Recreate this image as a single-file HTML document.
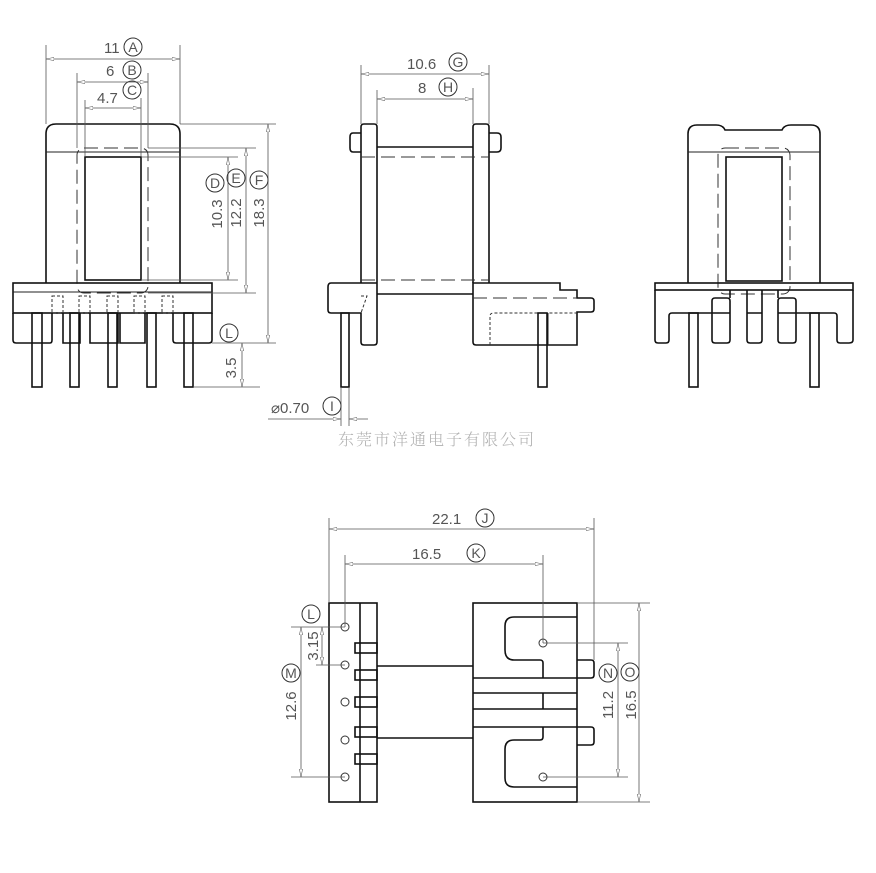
<!DOCTYPE html>
<html><head><meta charset="utf-8"><style>
html,body{margin:0;padding:0;background:#fff;}
svg{display:block;}
text{font-family:"Liberation Sans","Noto Sans CJK SC",sans-serif;fill:#555;font-weight:300;}
.o{fill:none;stroke:#111;stroke-width:1.6;}
.t{fill:none;stroke:#222;stroke-width:1;}
.d{fill:none;stroke:#555;stroke-width:0.8;}
.h{fill:none;stroke:#333;stroke-width:1;stroke-dasharray:14 6;}
.c{fill:none;stroke:#333;stroke-width:1;}
.l{font-size:14px;text-anchor:middle;}
</style></head><body>
<svg width="876" height="873" viewBox="0 0 876 873" xmlns="http://www.w3.org/2000/svg">
<defs>
<marker id="a" markerWidth="10" markerHeight="6" refX="10" refY="3" orient="auto-start-reverse"><path d="M0,1 L10,3 L0,5 Z" fill="#fff" stroke="#555" stroke-width="0.7"/></marker>
</defs>

<!-- VIEW 1 -->
<path class="o" d="M46,283 V134 Q46,124 56,124 H170 Q180,124 180,134 V283"/>
<line class="t" x1="46" y1="152" x2="180" y2="152"/>
<rect class="o" x="85" y="157" width="56" height="123"/>
<rect class="h" x="77" y="148" width="71" height="145" rx="7"/>
<rect class="o" x="13" y="283" width="199" height="30"/>
<line class="t" x1="13" y1="292" x2="212" y2="292"/>
<g class="c" stroke-dasharray="3 2"><rect x="52" y="296" width="11" height="17"/><rect x="79" y="296" width="11" height="17"/><rect x="107" y="296" width="11" height="17"/><rect x="134" y="296" width="11" height="17"/><rect x="162" y="296" width="11" height="17"/></g>
<path class="o" d="M13,313 V340 Q13,343 16,343 H50 Q52,343 52,340 V313 M63,313 V343 H80 V313 M90,313 V343 H118 V313 M120,313 V343 H145 V313 M173,313 V340 Q173,343 176,343 H209 Q212,343 212,340 V313"/>
<g class="o"><rect x="32" y="313" width="10" height="74"/><rect x="70" y="313" width="9" height="74"/><rect x="108" y="313" width="9" height="74"/><rect x="147" y="313" width="9" height="74"/><rect x="184" y="313" width="9" height="74"/></g>
<g class="d">
<line x1="46" y1="45" x2="46" y2="124"/><line x1="180" y1="45" x2="180" y2="124"/>
<line x1="46" y1="59" x2="180" y2="59" marker-start="url(#a)" marker-end="url(#a)"/>
<line x1="77" y1="73" x2="77" y2="148"/><line x1="148" y1="73" x2="148" y2="148"/>
<line x1="77" y1="82" x2="148" y2="82" marker-start="url(#a)" marker-end="url(#a)"/>
<line x1="85" y1="100" x2="85" y2="157"/><line x1="141" y1="98" x2="141" y2="157"/>
<line x1="85" y1="108" x2="141" y2="108" marker-start="url(#a)" marker-end="url(#a)"/>
<line x1="180" y1="124" x2="276" y2="124"/><line x1="212" y1="343" x2="276" y2="343"/>
<line x1="268" y1="124" x2="268" y2="343" marker-start="url(#a)" marker-end="url(#a)"/>
<line x1="148" y1="148" x2="256" y2="148"/><line x1="148" y1="293" x2="256" y2="293"/>
<line x1="246" y1="148" x2="246" y2="293" marker-start="url(#a)" marker-end="url(#a)"/>
<line x1="141" y1="157" x2="238" y2="157"/><line x1="141" y1="280" x2="238" y2="280"/>
<line x1="228" y1="157" x2="228" y2="280" marker-start="url(#a)" marker-end="url(#a)"/>
<line x1="193" y1="387" x2="260" y2="387"/>
<line x1="242" y1="343" x2="242" y2="387" marker-start="url(#a)" marker-end="url(#a)"/>
</g>
<g font-size="15">
<text x="104" y="53">11</text><circle class="c" cx="133" cy="47" r="9"/><text x="133" y="52" class="l">A</text>
<text x="106" y="76">6</text><circle class="c" cx="132" cy="70" r="9"/><text x="132" y="75" class="l">B</text>
<text x="97" y="103">4.7</text><circle class="c" cx="132" cy="90" r="9"/><text x="132" y="95" class="l">C</text>
<circle class="c" cx="215" cy="183" r="9"/><text x="215" y="188" class="l">D</text>
<circle class="c" cx="236" cy="178" r="9"/><text x="236" y="183" class="l">E</text>
<circle class="c" cx="259" cy="180" r="9"/><text x="259" y="185" class="l">F</text>
<text transform="translate(222,214) rotate(-90)" text-anchor="middle">10.3</text>
<text transform="translate(241,213) rotate(-90)" text-anchor="middle">12.2</text>
<text transform="translate(264,213) rotate(-90)" text-anchor="middle">18.3</text>
<circle class="c" cx="229" cy="333" r="9"/><text x="229" y="338" class="l">L</text>
<text transform="translate(236,368) rotate(-90)" text-anchor="middle">3.5</text>
</g>

<!-- VIEW 2 -->
<path class="o" d="M361,283 V127 Q361,124 364,124 H374 Q377,124 377,127 V283"/>
<path class="o" d="M361,133 H353 Q350,133 350,137 V148 Q350,152 353,152 H361"/>
<path class="o" d="M473,283 V127 Q473,124 476,124 H486 Q489,124 489,127 V283"/>
<path class="o" d="M489,133 H497 Q501,133 501,137 V148 Q501,152 497,152 H489"/>
<line class="o" x1="377" y1="147" x2="473" y2="147"/>
<line class="o" x1="377" y1="294" x2="473" y2="294"/>
<line class="h" x1="361" y1="157" x2="489" y2="157"/>
<line class="h" x1="361" y1="280" x2="489" y2="280"/>
<path class="o" d="M377,283 H331 Q328,283 328,287 V310 Q328,313 331,313 H361 V342 Q361,345 364,345 H374 Q377,345 377,342 V283"/>
<rect class="o" x="341" y="313" width="8" height="74"/>
<path class="o" d="M473,283 H560 V290 H577 V298 H591 Q594,298 594,301 V309 Q594,312 591,312 H577 V345 H476 Q473,345 473,342 Z"/>
<path class="c" stroke-dasharray="3 2" d="M361,296 H367 L361,313"/>
<path class="c" stroke-dasharray="3 2" d="M490,345 V316 Q490,313 494,313 H577"/>
<line class="h" x1="473" y1="298" x2="577" y2="298"/>
<line class="t" x1="548" y1="313" x2="548" y2="345"/>
<rect class="o" x="538" y="313" width="9" height="74"/>
<g class="d">
<line x1="361" y1="65" x2="361" y2="124"/><line x1="489" y1="65" x2="489" y2="124"/>
<line x1="361" y1="74" x2="489" y2="74" marker-start="url(#a)" marker-end="url(#a)"/>
<line x1="377" y1="90" x2="377" y2="124"/><line x1="473" y1="88" x2="473" y2="124"/>
<line x1="377" y1="99" x2="473" y2="99" marker-start="url(#a)" marker-end="url(#a)"/>
<line x1="268" y1="419" x2="341" y2="419" marker-end="url(#a)"/>
<line x1="368" y1="419" x2="349" y2="419" marker-end="url(#a)"/>
<line x1="341" y1="387" x2="341" y2="426"/><line x1="349" y1="387" x2="349" y2="426"/>
</g>
<g font-size="15">
<text x="407" y="69">10.6</text><circle class="c" cx="458" cy="62" r="9"/><text x="458" y="67" class="l">G</text>
<text x="418" y="93">8</text><circle class="c" cx="448" cy="87" r="9"/><text x="448" y="92" class="l">H</text>
<text x="271" y="413">⌀0.70</text><circle class="c" cx="332" cy="406" r="9"/><text x="332" y="411" class="l">I</text>
</g>
<text x="437" y="445" font-size="16" text-anchor="middle" style="fill:#b0b0b0;letter-spacing:2px;font-family:'Liberation Sans','Noto Serif CJK SC',serif">东莞市洋通电子有限公司</text>

<!-- VIEW 3 -->
<path class="o" d="M688,283 V134 Q688,125 697,125 H716 Q723,125 725,130 H782 Q784,125 791,125 H811 Q820,125 820,134 V283"/>
<line class="t" x1="688" y1="152" x2="820" y2="152"/>
<rect class="o" x="726" y="157" width="56" height="124"/>
<rect class="h" x="718" y="148" width="72" height="146" rx="7"/>
<rect class="o" x="655" y="283" width="198" height="7"/>
<path class="o" d="M655,290 V340 Q655,343 658,343 H666 Q669,343 669,340 V316 Q669,313 672,313 H712 M712,301 Q712,298 715,298 H727 Q730,298 730,301 V340 Q730,343 727,343 H715 Q712,343 712,340 V301 M712,313 H730 M730,290 V298 M747,290 V340 Q747,343 750,343 H759 Q762,343 762,340 V290 M747,313 H762 M778,301 Q778,298 781,298 H793 Q796,298 796,301 V340 Q796,343 793,343 H781 Q778,343 778,340 Z M778,313 H796 M778,290 V298 M796,313 H834 Q837,313 837,316 V340 Q837,343 840,343 H849 Q853,343 853,340 V290"/>
<rect class="o" x="689" y="313" width="9" height="74"/>
<rect class="o" x="810" y="313" width="9" height="74"/>

<!-- VIEW 4 -->
<rect class="o" x="329" y="603" width="48" height="199"/>
<line class="o" x1="360" y1="603" x2="360" y2="802"/>
<g class="c"><circle cx="345" cy="627" r="4"/><circle cx="345" cy="665" r="4"/><circle cx="345" cy="702" r="4"/><circle cx="345" cy="740" r="4"/><circle cx="345" cy="777" r="4"/></g>
<g class="o"><rect x="355" y="643" width="22" height="10"/><rect x="355" y="670" width="22" height="10"/><rect x="355" y="697" width="22" height="10"/><rect x="355" y="727" width="22" height="10"/><rect x="355" y="754" width="22" height="10"/></g>
<line class="o" x1="377" y1="666" x2="473" y2="666"/>
<line class="o" x1="377" y1="738" x2="473" y2="738"/>
<rect class="o" x="473" y="603" width="104" height="199"/>
<path class="o" d="M577,617 H514 Q505,617 505,626 V650 Q505,660 514,660 H540 Q543,660 543,663 V678"/>
<line class="o" x1="473" y1="678" x2="577" y2="678"/>
<line class="o" x1="473" y1="693" x2="577" y2="693"/>
<line class="o" x1="473" y1="709" x2="577" y2="709"/>
<line class="o" x1="473" y1="727" x2="577" y2="727"/>
<line class="o" x1="543" y1="693" x2="543" y2="709"/>
<path class="o" d="M543,727 V737 Q543,740 540,740 H514 Q505,740 505,749 V778 Q505,787 514,787 H577"/>
<circle class="c" cx="543" cy="643" r="4"/><circle class="c" cx="543" cy="777" r="4"/>
<path class="o" d="M577,660 H591 Q594,660 594,663 V675 Q594,678 591,678 H577"/>
<path class="o" d="M577,727 H591 Q594,727 594,730 V742 Q594,745 591,745 H577"/>
<g class="d">
<line x1="329" y1="518" x2="329" y2="603"/><line x1="594" y1="518" x2="594" y2="660"/>
<line x1="329" y1="529" x2="594" y2="529" marker-start="url(#a)" marker-end="url(#a)"/>
<line x1="345" y1="555" x2="345" y2="627"/><line x1="543" y1="555" x2="543" y2="643"/>
<line x1="345" y1="564" x2="543" y2="564" marker-start="url(#a)" marker-end="url(#a)"/>
<line x1="543" y1="643" x2="628" y2="643"/><line x1="543" y1="777" x2="628" y2="777"/>
<line x1="618" y1="643" x2="618" y2="777" marker-start="url(#a)" marker-end="url(#a)"/>
<line x1="577" y1="603" x2="650" y2="603"/><line x1="577" y1="802" x2="650" y2="802"/>
<line x1="639" y1="603" x2="639" y2="802" marker-start="url(#a)" marker-end="url(#a)"/>
<line x1="291" y1="627" x2="345" y2="627"/><line x1="316" y1="665" x2="345" y2="665"/><line x1="291" y1="777" x2="345" y2="777"/>
<line x1="301" y1="627" x2="301" y2="777" marker-start="url(#a)" marker-end="url(#a)"/>
<line x1="322" y1="627" x2="322" y2="665" marker-start="url(#a)" marker-end="url(#a)"/>
</g>
<g font-size="15">
<text x="432" y="524">22.1</text><circle class="c" cx="485" cy="518" r="9"/><text x="485" y="523" class="l">J</text>
<text x="412" y="559">16.5</text><circle class="c" cx="476" cy="553" r="9"/><text x="476" y="558" class="l">K</text>
<circle class="c" cx="311" cy="614" r="9"/><text x="311" y="619" class="l">L</text>
<circle class="c" cx="291" cy="673" r="9"/><text x="291" y="678" class="l">M</text>
<text transform="translate(318,646) rotate(-90)" text-anchor="middle">3.15</text>
<text transform="translate(296,706) rotate(-90)" text-anchor="middle">12.6</text>
<circle class="c" cx="608" cy="673" r="9"/><text x="608" y="678" class="l">N</text>
<circle class="c" cx="630" cy="672" r="9"/><text x="630" y="677" class="l">O</text>
<text transform="translate(613,705) rotate(-90)" text-anchor="middle">11.2</text>
<text transform="translate(636,705) rotate(-90)" text-anchor="middle">16.5</text>
</g>
</svg>
</body></html>
